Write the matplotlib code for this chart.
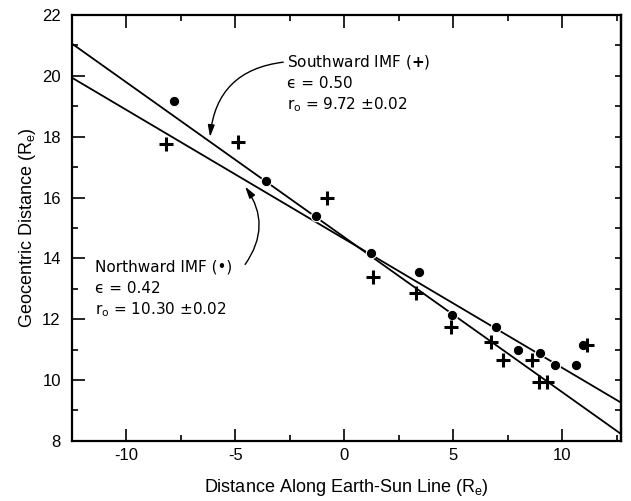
import matplotlib.pyplot as plt
from matplotlib.ticker import MultipleLocator

plt.rcParams["font.family"] = ["Liberation Sans", "DejaVu Sans"]
plt.rcParams["mathtext.fontset"] = "custom"
plt.rcParams["mathtext.rm"] = "Liberation Sans"
plt.rcParams["mathtext.it"] = "Liberation Sans"
plt.rcParams["mathtext.bf"] = "DejaVu Sans:bold"
plt.rcParams["axes.unicode_minus"] = False

# northward IMF crossings (filled circles)
north_x = [-7.80, -3.59, -1.30, 1.21, 3.44, 4.95, 6.95, 7.97, 8.99, 9.69, 10.64, 10.95]
north_y = [19.17, 16.54, 15.39, 14.17, 13.54, 12.14, 11.74, 10.98, 10.90, 10.51, 10.51, 11.14]

# southward IMF crossings (plus signs)
south_x = [-8.17, -4.86, -0.81, 1.32, 3.30, 4.91, 6.74, 7.31, 8.61, 8.92, 9.33, 11.16]
south_y = [17.76, 17.82, 15.97, 13.39, 12.87, 11.75, 11.24, 10.67, 10.67, 9.94, 9.94, 11.14]

# fitted conic sections (straight in r vs X), end points
fit_x = [-12.5, 12.7]
south_fit = [21.06, 8.23]
north_fit = [19.94, 9.26]

fig = plt.figure(figsize=(6.31, 5.01), dpi=100)
ax = fig.add_axes([0.114, 0.120, 0.870, 0.850])

ax.plot(fit_x, south_fit, color="black", lw=1.3, zorder=2)
ax.plot(fit_x, north_fit, color="black", lw=1.3, zorder=2)

ax.plot(north_x, north_y, "o", color="black", ms=7.5, mec="white", mew=0.8, zorder=3)
ax.plot(south_x, south_y, "+", color="black", ms=10, mew=2.2, zorder=3)

ax.set_xlim(-12.5, 12.7)
ax.set_ylim(8, 22)
ax.xaxis.set_major_locator(MultipleLocator(5))
ax.xaxis.set_minor_locator(MultipleLocator(2.5))
ax.yaxis.set_major_locator(MultipleLocator(2))
ax.yaxis.set_minor_locator(MultipleLocator(1))
ax.tick_params(which="both", direction="in", top=True, right=False,
               width=1.2, labelsize=12)
ax.tick_params(which="major", length=9)
ax.tick_params(which="minor", length=4.5)
ax.tick_params(axis="y", pad=8)
ax.tick_params(axis="x", pad=5)
for s in ax.spines.values():
    s.set_linewidth(1.6)

sec = ax.secondary_yaxis("right")
sec.yaxis.set_major_locator(MultipleLocator(1))
sec.tick_params(direction="in", length=4.5, width=1.2, labelright=False)
sec.spines["right"].set_linewidth(1.6)

ax.set_xlabel("Distance Along Earth-Sun Line (R$_\\mathregular{e}$)", fontsize=13, labelpad=10)
ax.set_ylabel("Geocentric Distance (R$_\\mathregular{e}$)", fontsize=13, labelpad=3)

fs = 11
tf = ["DejaVu Sans"]
ax.text(-2.63, 20.45, "Southward IMF ($\\mathbf{+}$)", fontsize=fs, va="center", family=tf)
ax.text(-2.63, 19.76, "\u03f5 = 0.50", fontsize=fs, va="center", family=tf)
ax.text(-2.63, 19.04, "r$_\\mathregular{o}$ = 9.72 \u00b10.02", fontsize=fs, va="center", family=tf)

ax.text(-11.46, 13.71, "Northward IMF (\u2022)", fontsize=fs, va="center", family=tf)
ax.text(-11.46, 13.02, "\u03f5 = 0.42", fontsize=fs, va="center", family=tf)
ax.text(-11.46, 12.30, "r$_\\mathregular{o}$ = 10.30 \u00b10.02", fontsize=fs, va="center", family=tf)

arrow = dict(arrowstyle="-|>,head_length=0.7,head_width=0.2", color="black", lw=1.0,
             shrinkA=0, shrinkB=0)
ax.annotate("", xy=(-6.16, 17.99), xytext=(-2.80, 20.45),
            arrowprops=dict(arrow, connectionstyle="arc3,rad=0.4"))
ax.annotate("", xy=(-4.55, 16.36), xytext=(-4.55, 13.80),
            arrowprops=dict(arrow, connectionstyle="arc3,rad=0.35"))

fig.savefig("out.png", dpi=100)
